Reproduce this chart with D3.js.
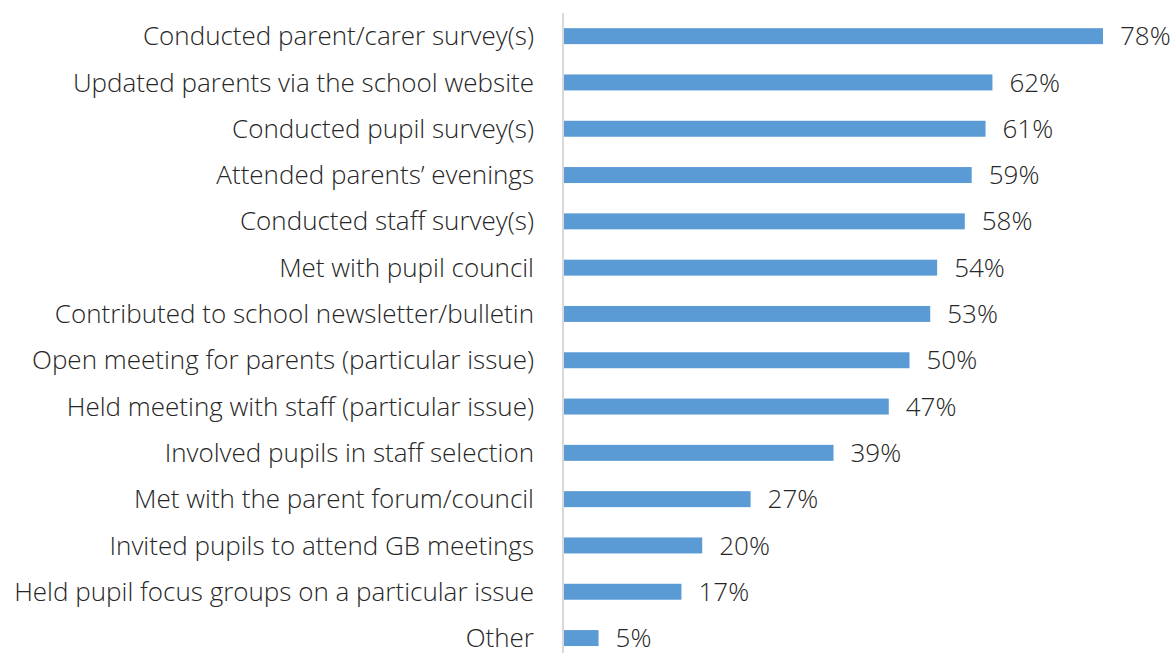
<!DOCTYPE html>
<html>
<head>
<meta charset="utf-8">
<script src="https://cdn.jsdelivr.net/npm/d3@7"></script>
<style>
  body { margin: 0; background: #fff; }
  text { font-family: "Open Sans", Lato, sans-serif; font-weight: 300; fill: #262626; }
</style>
</head>
<body>
<script>
// data
const categories = [
  "Conducted parent/carer survey(s)",
  "Updated parents via the school website",
  "Conducted pupil survey(s)",
  "Attended parents\u2019 evenings",
  "Conducted staff survey(s)",
  "Met with pupil council",
  "Contributed to school newsletter/bulletin",
  "Open meeting for parents (particular issue)",
  "Held meeting with staff (particular issue)",
  "Involved pupils in staff selection",
  "Met with the parent forum/council",
  "Invited pupils to attend GB meetings",
  "Held pupil focus groups on a particular issue",
  "Other"
];
const values = [78, 62, 61, 59, 58, 54, 53, 50, 47, 39, 27, 20, 17, 5];

const width = 1174, height = 653;

const svg = d3.select("body").append("svg")
    .attr("width", width)
    .attr("height", height);

// scales
const x = d3.scaleLinear()
    .domain([0, 78])
    .range([564, 1103]);

const y = d3.scaleBand()
    .domain(categories)
    .range([13, 13 + 14 * 46.3])
    .paddingInner(0.655)
    .paddingOuter(0.3275);

// bars
svg.append("g")
  .selectAll("rect")
  .data(categories)
  .join("rect")
    .attr("x", x(0))
    .attr("y", d => y(d))
    .attr("width", (d, i) => x(values[i]) - x(0))
    .attr("height", y.bandwidth())
    .attr("fill", "#5b9bd5");

// axis line
svg.append("line")
    .attr("x1", 563).attr("x2", 563)
    .attr("y1", 13).attr("y2", height)
    .attr("stroke", "#d9d9d9")
    .attr("stroke-width", 2);

// category labels
svg.append("g")
  .selectAll("text")
  .data(categories)
  .join("text")
    .attr("x", 534)
    .attr("y", d => y(d) + y.bandwidth() / 2)
    .attr("dy", "0.35em")
    .attr("text-anchor", "end")
    .style("font-size", "26px")
    .text(d => d);

// value labels
svg.append("g")
  .selectAll("text")
  .data(categories)
  .join("text")
    .attr("x", (d, i) => x(values[i]) + 17)
    .attr("y", d => y(d) + y.bandwidth() / 2)
    .attr("dy", "0.35em")
    .style("font-size", "26px")
    .text((d, i) => values[i] + "%");
</script>
</body>
</html>
